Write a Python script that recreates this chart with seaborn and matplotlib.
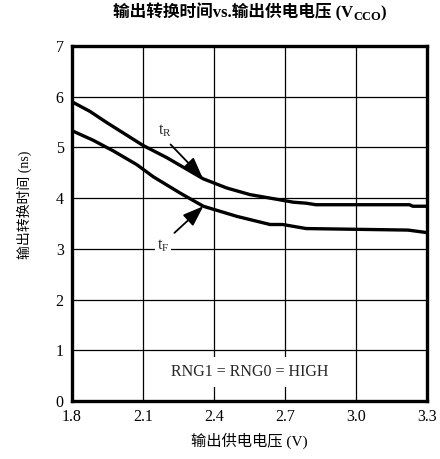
import numpy as np
import pandas as pd
import matplotlib
matplotlib.use("Agg")
import matplotlib.pyplot as plt
import seaborn as sns

# Data
tr_v = [1.80, 1.876, 1.947, 2.10, 2.20, 2.355, 2.454, 2.552, 2.735, 2.79, 2.83, 3.226, 3.24, 3.30]
tr_ns = [5.90, 5.71, 5.49, 5.04, 4.80, 4.38, 4.20, 4.07, 3.92, 3.90, 3.87, 3.87, 3.84, 3.84]
tf_v = [1.80, 1.89, 1.975, 2.074, 2.144, 2.257, 2.355, 2.497, 2.637, 2.69, 2.79, 3.22, 3.30]
tf_ns = [5.33, 5.14, 4.93, 4.66, 4.42, 4.10, 3.84, 3.64, 3.48, 3.48, 3.40, 3.37, 3.32]
x_ticks = [1.8, 2.1, 2.4, 2.7, 3.0, 3.3]
x_tick_labels = ["1.8", "2.1", "2.4", "2.7", "3.0", "3.3"]
y_ticks = [0, 1, 2, 3, 4, 5, 6, 7]

sns.set_theme(style="white")
FAM = ['Liberation Serif', 'Noto Sans CJK SC', 'DejaVu Sans']
plt.rcParams['font.family'] = FAM
plt.rcParams['mathtext.fontset'] = 'custom'
plt.rcParams['mathtext.rm'] = 'Liberation Serif'
plt.rcParams['mathtext.it'] = 'Liberation Serif'
plt.rcParams['mathtext.bf'] = 'Liberation Serif:bold'

df = pd.concat([
    pd.DataFrame({"v": tr_v, "t": tr_ns, "s": "tR"}),
    pd.DataFrame({"v": tf_v, "t": tf_ns, "s": "tF"}),
])

fig = plt.figure(figsize=(4.4, 4.59), dpi=100)
ax = fig.add_axes([0.1636, 0.1264, 0.8068, 0.7734])
sns.lineplot(data=df, x="v", y="t", units="s", estimator=None, sort=False,
             color="black", linewidth=2.4, ax=ax, legend=False, zorder=3)

ax.set_xlim(1.8, 3.3)
ax.set_ylim(0, 7)
ax.set_xticks(x_ticks)
ax.set_xticklabels(x_tick_labels)
ax.set_yticks(y_ticks)
ax.grid(True, color="black", linewidth=0.9)
ax.tick_params(length=0, labelsize=11.5, colors="black", pad=6)
for sp in ax.spines.values():
    sp.set_color("black")
    sp.set_linewidth(2.4)
    sp.set_zorder(4)

ax.set_xlabel("输出供电电压 (V)", fontsize=11, color="black", labelpad=5)
ax.set_ylabel("输出转换时间 (ns)", fontsize=10, color="black")
ax.yaxis.set_label_coords(-0.113, 0.552)

# Title built from pieces (CJK + subscript) so that font fallback works
renderer = fig.canvas.get_renderer()
title_y = 1 - 17 / 459
parts = [("输出转换时间vs.输出供电电压 (V", 12, 0.0),
         ("CCO", 9, -3.0),
         (")", 12, 0.0)]
texts = []
for s, fs, dy in parts:
    t = fig.text(0, title_y, s, fontsize=fs, fontweight="bold", family=FAM,
                 color="black", ha="left", va="baseline")
    texts.append((t, dy))
widths = [t.get_window_extent(renderer).width for t, _ in texts]
total = sum(widths)
center_px = (72 + 427) / 2
x = center_px - total / 2
for (t, dy), w in zip(texts, widths):
    t.set_position((x / 440, title_y + dy / 459))
    x += w

bbox = dict(facecolor="white", edgecolor="none", pad=1.5)
arrow = dict(arrowstyle="-|>,head_length=1.1,head_width=0.4",
             color="black", lw=1.3, shrinkB=0)
ax.annotate("t$_\\mathrm{R}$", xy=(2.352, 4.40), xytext=(2.193, 5.32),
            fontsize=11.5, ha="center", va="center", bbox=bbox, zorder=5,
            arrowprops=dict(arrow, relpos=(0.55, 0.0), shrinkA=3))
ax.annotate("t$_\\mathrm{F}$", xy=(2.355, 3.84), xytext=(2.185, 3.06),
            fontsize=11.5, ha="center", va="center", bbox=bbox, zorder=5,
            arrowprops=dict(arrow, relpos=(1.0, 1.0), shrinkA=3))
ax.text(2.55, 0.57, "RNG1 = RNG0 = HIGH", fontsize=11.5, ha="center", va="center",
        bbox=dict(facecolor="white", edgecolor="none", pad=5), zorder=5)

fig.savefig("out.png", dpi=100)
